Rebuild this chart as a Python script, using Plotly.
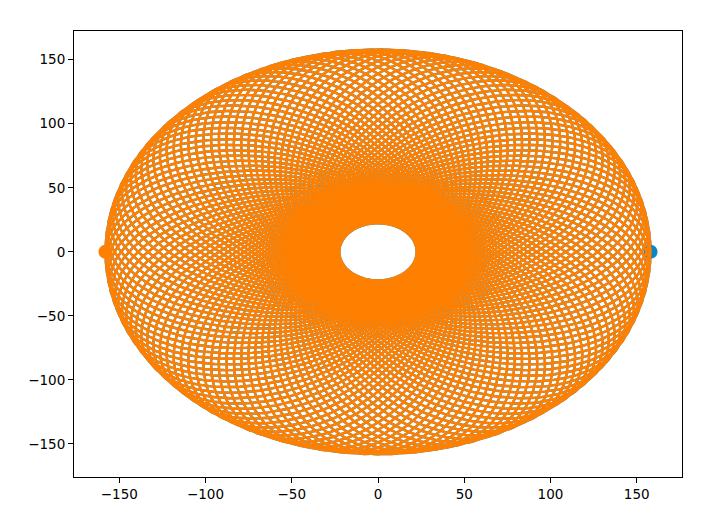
import numpy as np
import plotly.graph_objects as go

"""
Two equal bodies on a precessing orbit around their common centre.
Orbit numbers read off the picture.
"""
r_apo = 158.0          # outer edge of the rosette
r_peri = 22.5          # radius of the empty hole in the middle
n_orbits = 124         # number of loops
pts_per_orbit = 400

start_blue = [158.0]   # x of the starting dots, both on y = 0
start_orange = [-158.0]
start_y = [0.0]

x_ticks = [-150, -100, -50, 0, 50, 100, 150]
y_ticks = [-150, -100, -50, 0, 50, 100, 150]

x_range = [-176.25, 176.25]
y_range = [-175.8, 172.4]


def orbit(ra, rp, n, per):
    e = (ra - rp) / (ra + rp)
    p = ra * (1 - e)
    nu = np.linspace(0, 2 * np.pi * n, n * per + 1)
    r = p / (1 - e * np.cos(nu))
    # apsides advance a full turn over all the loops
    phi = nu * (1 + 1.0 / n)
    return r * np.cos(phi), r * np.sin(phi)


x, y = orbit(r_apo, r_peri, n_orbits, pts_per_orbit)

blue = '#0a86c4'
orange = '#ff8000'

fig = go.Figure()
fig.add_trace(go.Scatter(x=x, y=y, mode='lines', line=dict(color=blue, width=2.4),
                         hoverinfo='skip'))
fig.add_trace(go.Scatter(x=start_blue, y=start_y, mode='markers',
                         marker=dict(color=blue, size=14)))
fig.add_trace(go.Scatter(x=-x, y=-y, mode='lines', line=dict(color=orange, width=2.4),
                         hoverinfo='skip'))
fig.add_trace(go.Scatter(x=start_orange, y=start_y, mode='markers',
                         marker=dict(color=orange, size=14)))

axis = dict(showgrid=False, zeroline=False, showline=True, mirror=True,
            linecolor='black', linewidth=1, ticks='outside', ticklen=5,
            tickcolor='black', tickfont=dict(family='DejaVu Sans', size=13.5, color='black'))

# page body adds 8px around the plot, so the figure is a bit smaller
fig.update_layout(width=718, height=519, showlegend=False,
                  plot_bgcolor='white', paper_bgcolor='white',
                  margin=dict(l=66, r=44, t=23, b=50))
fig.update_xaxes(range=x_range, tickvals=x_ticks, **axis)
fig.update_yaxes(range=y_range, tickvals=y_ticks, **axis)

fig.write_html("out.html")
